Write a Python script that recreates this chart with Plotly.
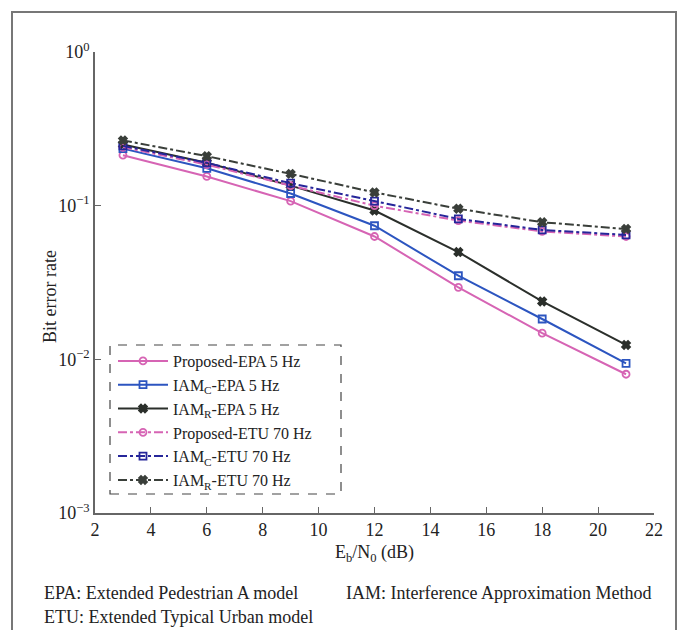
import plotly.graph_objects as go

snr = [3, 6, 9, 12, 15, 18, 21]
prop_epa = [0.213, 0.155, 0.107, 0.063, 0.0294, 0.0148, 0.0080]
iamc_epa = [0.235, 0.175, 0.120, 0.074, 0.035, 0.0183, 0.0094]
iamr_epa = [0.250, 0.190, 0.135, 0.093, 0.0499, 0.0238, 0.0124]
prop_etu = [0.240, 0.185, 0.135, 0.100, 0.080, 0.068, 0.063]
iamc_etu = [0.245, 0.190, 0.140, 0.107, 0.082, 0.0695, 0.0645]
iamr_etu = [0.266, 0.210, 0.161, 0.122, 0.0955, 0.078, 0.0705]

names = ["Proposed-EPA 5 Hz", "IAM<sub>C</sub>-EPA 5 Hz", "IAM<sub>R</sub>-EPA 5 Hz",
         "Proposed-ETU 70 Hz", "IAM<sub>C</sub>-ETU 70 Hz", "IAM<sub>R</sub>-ETU 70 Hz"]
series = [prop_epa, iamc_epa, iamr_epa, prop_etu, iamc_etu, iamr_etu]
colors = ["#d664b4", "#2c55c0", "#2b2f2b", "#d664b4", "#26269a", "#3a3f3a"]
dashes = ["solid", "solid", "solid", "dashdot", "dashdot", "dashdot"]
symbols = ["circle-open", "square-open", "x", "circle-open", "square-open", "x"]

xticks = [2, 4, 6, 8, 10, 12, 14, 16, 18, 20, 22]
yticks = [1, 0.1, 0.01, 0.001]
yticktext = ["10<sup>0</sup>", "10<sup>\u22121</sup>", "10<sup>\u22122</sup>", "10<sup>\u22123</sup>"]

FONT = "Liberation Serif"
fig = go.Figure()
for name, ys, c, d, s in zip(names, series, colors, dashes, symbols):
    fig.add_trace(go.Scatter(
        x=snr, y=ys, name=name, mode="lines+markers",
        line=dict(color=c, width=2, dash=d),
        marker=dict(symbol=s, size=7, color=c, line=dict(color=c, width=1.8)),
    ))

L, R, T, B = 95, 25, 52, 117
W, H = 679, 630
pw, ph = W - L - R, H - T - B

def px(xp):
    return (xp - L) / pw

def py(yp):
    return (H - B - yp) / ph

fig.update_layout(
    width=W, height=H,
    margin=dict(l=L, r=R, t=T, b=B),
    paper_bgcolor="white", plot_bgcolor="white",
    font=dict(family=FONT, size=18, color="#222"),
    showlegend=True,
    legend=dict(x=px(113), y=py(344), xanchor="left", yanchor="top",
                bgcolor="rgba(0,0,0,0)", borderwidth=0,
                font=dict(family=FONT, size=16, color="#222"),
                itemwidth=50, tracegroupgap=0),
    xaxis=dict(range=[2, 22], tickvals=xticks, ticks="inside", ticklen=6,
               tickcolor="#666", showline=True, linecolor="#666", linewidth=1.5,
               showgrid=False, zeroline=False, mirror=False,
               tickfont=dict(family=FONT, size=18, color="#222"),
               title=dict(text="E<sub>b</sub>/N<sub>0</sub> (dB)",
                          font=dict(family=FONT, size=18, color="#222"), standoff=6)),
    yaxis=dict(type="log", range=[-3, 0], tickvals=yticks, ticktext=yticktext,
               ticks="inside", ticklen=6, tickcolor="#666",
               showline=True, linecolor="#666", linewidth=1.5,
               showgrid=False, zeroline=False, mirror=False,
               tickfont=dict(family=FONT, size=18, color="#222")),
)

# y-axis title
fig.add_annotation(text="Bit error rate", textangle=-90, xref="paper", yref="paper",
                   x=px(38), y=py(297), showarrow=False,
                   font=dict(family=FONT, size=18, color="#222"))

# dashed legend box
fig.add_shape(type="rect", xref="paper", yref="paper",
              x0=px(110), x1=px(341), y0=py(494), y1=py(345),
              line=dict(color="#444", width=1.2, dash="dash"), layer="above")

# outer frame
fig.add_shape(type="rect", xref="paper", yref="paper",
              x0=px(12), x1=px(676), y0=py(660), y1=py(12),
              line=dict(color="#777", width=2))

notes = [("EPA: Extended Pedestrian A model", 42, 593),
         ("IAM: Interference Approximation Method", 344, 593),
         ("ETU: Extended Typical Urban model", 42, 617)]
for t, xx, yy in notes:
    fig.add_annotation(text=t, xref="paper", yref="paper", x=px(xx), y=py(yy),
                       xanchor="left", yanchor="middle", showarrow=False,
                       font=dict(family=FONT, size=18, color="#222"))

fig.write_html("out.html")
